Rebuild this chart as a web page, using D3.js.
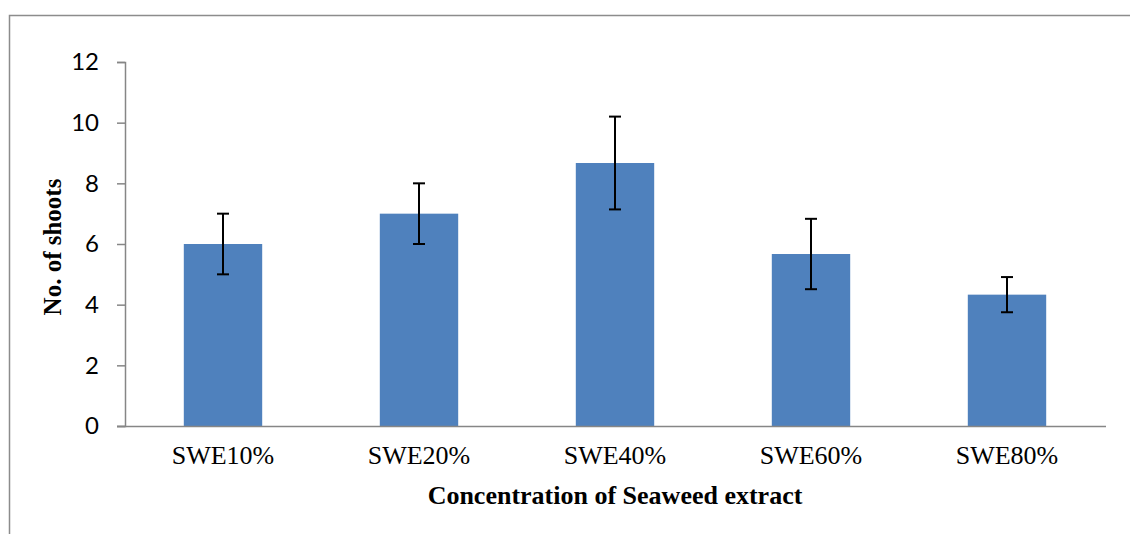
<!DOCTYPE html>
<html><head><meta charset="utf-8">
<script src="https://cdn.jsdelivr.net/npm/d3@7"></script>
<style>body{margin:0;background:#fff}svg{display:block}</style>
</head><body>
<svg id="c" width="1130" height="534"></svg>
<script>
const categories = ["SWE10%", "SWE20%", "SWE40%", "SWE60%", "SWE80%"];
const values = [6.0, 7.0, 8.67, 5.67, 4.33];
const errors = [1.0, 1.0, 1.53, 1.16, 0.58];
const yTicks = [0, 2, 4, 6, 8, 10, 12];
const xTitle = "Concentration of Seaweed extract";
const yTitle = "No. of shoots";

const svg = d3.select("#c");
// outer frame (partial, as in the reference)
svg.append("path").attr("d","M9.5,534 L9.5,15.5 L1130,15.5")
  .attr("fill","none").attr("stroke","#8c8c8c").attr("stroke-width",1.5);

const mLeft = 125, mRight = 1105, mTop = 62, mBottom = 426;
const x = d3.scaleBand().domain(categories).range([mLeft, mRight]).paddingInner(0.6).paddingOuter(0.3);
const y = d3.scaleLinear().domain([0, 12]).range([mBottom, mTop]);

const g = svg.append("g");
g.selectAll("rect.bar").data(categories).join("rect")
  .attr("class","bar")
  .attr("x", d => x(d)).attr("width", x.bandwidth())
  .attr("y", (d,i) => y(values[i])).attr("height", (d,i) => y(0) - y(values[i]))
  .attr("fill", "#4f81bd");

// error bars
const eb = g.selectAll("g.err").data(categories).join("g").attr("class","err")
  .attr("stroke","#000").attr("stroke-width",2);
eb.append("line").attr("x1", d => x(d)+x.bandwidth()/2).attr("x2", d => x(d)+x.bandwidth()/2)
  .attr("y1",(d,i)=>y(values[i]+errors[i])).attr("y2",(d,i)=>y(values[i]-errors[i]));
eb.append("line").attr("x1", d => x(d)+x.bandwidth()/2-6).attr("x2", d => x(d)+x.bandwidth()/2+6)
  .attr("y1",(d,i)=>y(values[i]+errors[i])).attr("y2",(d,i)=>y(values[i]+errors[i]));
eb.append("line").attr("x1", d => x(d)+x.bandwidth()/2-6).attr("x2", d => x(d)+x.bandwidth()/2+6)
  .attr("y1",(d,i)=>y(values[i]-errors[i])).attr("y2",(d,i)=>y(values[i]-errors[i]));

// y axis
const ya = svg.append("g").attr("transform",`translate(${mLeft},0)`)
  .call(d3.axisLeft(y).tickValues(yTicks).tickSize(8).tickPadding(18).tickFormat(d3.format("d")));
ya.select(".domain").attr("stroke","#868686").attr("stroke-width",1.5);
ya.selectAll(".tick line").attr("stroke","#868686").attr("stroke-width",1.5);
ya.selectAll(".tick text").attr("font-family","Lato, 'Open Sans', sans-serif").attr("font-size","24px").attr("fill","#000");

// x axis
const xa = svg.append("g").attr("transform",`translate(0,${mBottom})`)
  .call(d3.axisBottom(x).tickSize(0).tickPadding(20));
xa.select(".domain").attr("d", `M${mLeft-8},0.5H1106`).attr("stroke","#868686").attr("stroke-width",1.5);
xa.selectAll(".tick text").attr("font-family","'Liberation Serif', 'Times New Roman', serif").attr("font-size","26px").attr("fill","#000");

svg.append("text").attr("x", 615).attr("y", 504).attr("text-anchor","middle")
  .attr("font-family","'Liberation Serif', 'Times New Roman', serif").attr("font-weight","bold").attr("font-size","26px")
  .text(xTitle);
svg.append("text").attr("transform","translate(61,247) rotate(-90)").attr("text-anchor","middle")
  .attr("font-family","'Liberation Serif', 'Times New Roman', serif").attr("font-weight","bold").attr("font-size","25px")
  .text(yTitle);
</script>
</body></html>
